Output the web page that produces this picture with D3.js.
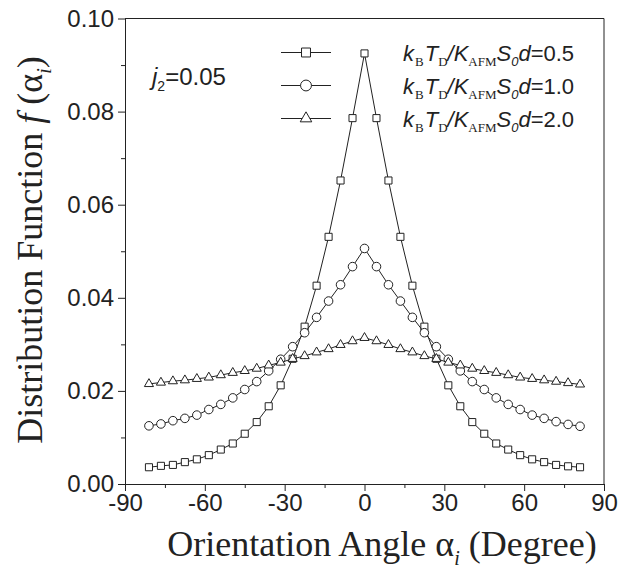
<!DOCTYPE html>
<html lang="en">
	<head>
		<meta charset="utf-8">
		<title>distribution function</title>
		<style>
			body {
				margin: 0;
				background-color: #ffffff;
			}

			.axis path,
			.axis line {
				fill: none;
				stroke: #222;
				stroke-width: 1px;
			}

			.axis text {
				font-family: Arial, "Liberation Sans", sans-serif;
				font-size: 24px;
				fill: #222;
			}

			path.line {
				fill: none;
				stroke: #222;
				stroke-width: 1px;
			}

			path.marker {
				fill: #fff;
				stroke: #222;
				stroke-width: 1px;
			}

			text.title {
				font-family: "Liberation Serif", "Times New Roman", serif;
				font-size: 36px;
				fill: #222;
			}

			text.label {
				font-family: Arial, "Liberation Sans", sans-serif;
				font-size: 22px;
				fill: #222;
			}
		</style>
	</head>
	<body>

		<script src="https://cdnjs.cloudflare.com/ajax/libs/d3/7.8.5/d3.min.js"></script>
		<script>

			// angles in degree, step 4.5
			var angles = [-81, -76.5, -72, -67.5, -63, -58.5, -54, -49.5, -45, -40.5, -36, -31.5, -27, -22.5, -18, -13.5, -9, -4.5, 0,
				4.5, 9, 13.5, 18, 22.5, 27, 31.5, 36, 40.5, 45, 49.5, 54, 58.5, 63, 67.5, 72, 76.5, 81];

			var f05 = [0.0036, 0.0039, 0.0041, 0.0047, 0.0053, 0.0062, 0.0074, 0.0087, 0.0108, 0.0133, 0.0167, 0.0212, 0.0269, 0.0338, 0.0426, 0.0531, 0.0652, 0.0786, 0.0925,
				0.0786, 0.0652, 0.0531, 0.0426, 0.0338, 0.0269, 0.0212, 0.0167, 0.0133, 0.0108, 0.0087, 0.0074, 0.0062, 0.0053, 0.0047, 0.0041, 0.0038, 0.0036];

			var f10 = [0.0125, 0.0129, 0.0136, 0.0141, 0.0148, 0.0160, 0.0171, 0.0185, 0.0203, 0.0220, 0.0243, 0.0268, 0.0295, 0.0325, 0.0358, 0.0393, 0.0428, 0.0467, 0.0506,
				0.0467, 0.0428, 0.0393, 0.0358, 0.0325, 0.0295, 0.0268, 0.0243, 0.0220, 0.0203, 0.0185, 0.0171, 0.0160, 0.0148, 0.0141, 0.0134, 0.0128, 0.0124];

			var f20 = [0.0215, 0.0218, 0.0221, 0.0223, 0.0226, 0.0229, 0.0234, 0.0239, 0.0243, 0.0248, 0.0255, 0.0261, 0.0269, 0.0275, 0.0283, 0.0290, 0.0299, 0.0307, 0.0314,
				0.0307, 0.0299, 0.0290, 0.0283, 0.0275, 0.0269, 0.0261, 0.0255, 0.0248, 0.0243, 0.0239, 0.0234, 0.0229, 0.0226, 0.0223, 0.0220, 0.0217, 0.0214];

			var seriesValues = ["0.5", "1.0", "2.0"];
			var xTicks = [-90, -60, -30, 0, 30, 60, 90];
			var xTickLabels = ["-90", "-60", "-30", "0", "30", "60", "90"];
			var xMinor = [-75, -45, -15, 15, 45, 75];
			var yTicks = [0, 0.02, 0.04, 0.06, 0.08, 0.10];
			var yTickLabels = ["0.00", "0.02", "0.04", "0.06", "0.08", "0.10"];
			var yMinor = [0.01, 0.03, 0.05, 0.07, 0.09];

			var fullwidth = 640;
			var fullheight = 568;
			var margin = { top: 18.5, right: 36, bottom: 84, left: 125 };

			var width = fullwidth - margin.left - margin.right;
			var height = fullheight - margin.top - margin.bottom;

			var xScale = d3.scaleLinear()
				.domain([-90, 90])
				.range([0, width]);

			var yScale = d3.scaleLinear()
				.domain([0, 0.10])
				.range([height, 0]);

			var svg = d3.select("body")
				.append("svg")
				.attr("width", fullwidth)
				.attr("height", fullheight)
				.append("g")
				.attr("transform", "translate(" + margin.left + "," + margin.top + ")");

			// frame top + right
			svg.append("line")
				.attr("x1", 0).attr("x2", width)
				.attr("y1", 0).attr("y2", 0)
				.attr("stroke", "#222");
			svg.append("line")
				.attr("x1", width).attr("x2", width)
				.attr("y1", 0).attr("y2", height)
				.attr("stroke", "#222");

			// minor ticks first
			svg.append("g")
				.attr("class", "x axis")
				.attr("transform", "translate(0," + height + ")")
				.call(d3.axisBottom(xScale).tickValues(xMinor).tickSize(4).tickFormat(""))
				.select(".domain").remove();

			svg.append("g")
				.attr("class", "y axis")
				.call(d3.axisLeft(yScale).tickValues(yMinor).tickSize(4).tickFormat(""))
				.select(".domain").remove();

			svg.append("g")
				.attr("class", "x axis")
				.attr("transform", "translate(0," + height + ")")
				.call(d3.axisBottom(xScale)
					.tickValues(xTicks)
					.tickSize(7)
					.tickSizeOuter(0)
					.tickPadding(3)
					.tickFormat(function(d, i) { return xTickLabels[i]; }));

			svg.append("g")
				.attr("class", "y axis")
				.call(d3.axisLeft(yScale)
					.tickValues(yTicks)
					.tickSize(7)
					.tickSizeOuter(0)
					.tickPadding(4)
					.tickFormat(function(d, i) { return yTickLabels[i]; }));

			// data
			var dataset = [
				{ name: seriesValues[0], values: f05, symbol: d3.symbolSquare, size: 50 },
				{ name: seriesValues[1], values: f10, symbol: d3.symbolCircle, size: 58 },
				{ name: seriesValues[2], values: f20, symbol: d3.symbolTriangle, size: 36 }
			];

			var line = d3.line()
				.x(function(d) { return xScale(d.a); })
				.y(function(d) { return yScale(d.v); });

			dataset.forEach(function(s) {
				var pts = angles.map(function(a, i) { return { a: a, v: s.values[i] }; });
				var g = svg.append("g");
				g.append("path")
					.attr("class", "line")
					.attr("d", line(pts));
				g.selectAll("path.marker")
					.data(pts)
					.enter()
					.append("path")
					.attr("class", "marker")
					.attr("transform", function(d) {
						return "translate(" + xScale(d.a) + "," + yScale(d.v) + ")";
					})
					.attr("d", d3.symbol().type(s.symbol).size(s.size));
			});

			// legend
			var legend = svg.append("g")
				.attr("transform", "translate(" + (281 - margin.left) + "," + (52.5 - margin.top) + ")");

			dataset.forEach(function(s, i) {
				var row = legend.append("g").attr("transform", "translate(0," + (i * 33) + ")");
				row.append("line")
					.attr("x1", 0).attr("x2", 50)
					.attr("stroke", "#222");
				row.append("path")
					.attr("class", "marker")
					.attr("transform", "translate(25,0)")
					.attr("d", d3.symbol().type(s.symbol).size(s.size * 1.6));

				var t = row.append("text")
					.attr("class", "label")
					.attr("x", 122)
					.attr("y", 8);
				t.append("tspan").style("font-style", "italic").text("k");
				t.append("tspan").attr("dy", 5).attr("dx", 1)
					.style("font-family", "'Liberation Serif', serif").style("font-size", "13px").text("B");
				t.append("tspan").attr("dy", -5).attr("dx", 1).style("font-style", "italic").text("T");
				t.append("tspan").attr("dy", 5)
					.style("font-family", "'Liberation Serif', serif").style("font-size", "13px").text("D");
				t.append("tspan").attr("dy", -5).style("font-style", "italic").text("/K");
				t.append("tspan").attr("dy", 5)
					.style("font-family", "'Liberation Serif', serif").style("font-size", "13px").text("AFM");
				t.append("tspan").attr("dy", -5).style("font-style", "italic").text("S");
				t.append("tspan").attr("dy", 5)
					.style("font-style", "italic").style("font-size", "13px").text("0");
				t.append("tspan").attr("dy", -5).style("font-style", "italic").text("d");
				t.append("tspan").text("=" + s.name);
			});

			// j2 annotation
			var jt = svg.append("text")
				.attr("class", "label")
				.attr("x", 152 - margin.left)
				.attr("y", 85 - margin.top)
				.style("font-size", "24px");
			jt.append("tspan").style("font-style", "italic").text("j");
			jt.append("tspan").attr("dy", 6).style("font-size", "14px").text("2");
			jt.append("tspan").attr("dy", -6).text("=0.05");

			// axis titles
			var xt = svg.append("text")
				.attr("class", "title")
				.attr("x", 382 - margin.left)
				.attr("y", 556 - margin.top)
				.style("text-anchor", "middle");
			xt.append("tspan").text("Orientation Angle \u03b1");
			xt.append("tspan").attr("dy", 9).style("font-style", "italic").style("font-size", "20px").text("i");
			xt.append("tspan").attr("dy", -9).text(" (Degree)");

			var yt = svg.append("text")
				.attr("class", "title")
				.attr("transform", "translate(" + (42 - margin.left) + "," + (250 - margin.top) + ") rotate(-90)")
				.style("text-anchor", "middle");
			yt.append("tspan").text("Distribution Function ");
			yt.append("tspan").style("font-style", "italic").text("f");
			yt.append("tspan").text(" (\u03b1");
			yt.append("tspan").attr("dy", 9).style("font-style", "italic").style("font-size", "20px").text("i");
			yt.append("tspan").attr("dy", -9).text(")");

		</script>

	</body>
</html>
